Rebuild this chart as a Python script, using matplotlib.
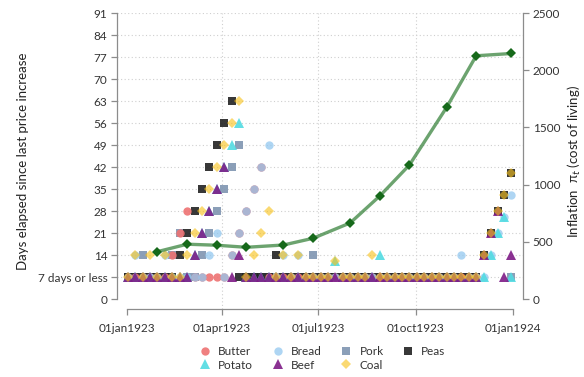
import numpy as np
import pandas as pd
import matplotlib
matplotlib.use("Agg")
import matplotlib.pyplot as plt
import matplotlib.dates as mdates

plt.rcParams["font.family"] = ["Lato", "DejaVu Sans"]

# Weekly observation dates (last two weeks are irregular)
weeks = pd.date_range("1923-01-02", periods=51, freq="7D").append(
    pd.DatetimeIndex(["1923-12-23", "1923-12-30"]))

nan = np.nan
# Days elapsed since last price increase, one value per week
butter = [7, 7, 7, 7, 7, 7, 14, 21, 28, 7, 7, 7, 7, 7, 14, 21, 28, 35, 42] + [7] * 29 + [nan] * 5
bread = ([7, 14, 7, 7, 7, 14, 7, 7, 7, 7, 7, 14, 21, 7, 14, 21, 28, 35, 42, 49, 7, 14, 7, 14]
         + [7] * 21 + [14, 7, 7, 7, 14, 21, 26, 33])
pork = ([7, 7, 14, 7, 7, 7, 14, 21, 7, 7, 14, 21, 28, 35, 42, 49] + [7] * 9 + [14]
        + [7] * 22 + [nan, nan, nan, nan, 7])
peas = [7] * 7 + [14, 21, 28, 35, 42, 49, 56, 63] + [7] * 5 + [14] + [7] * 27 + [14, 21, 28, 33, 40]
potato = ([7] * 9 + [14, 21, 28, 35, 42, 49, 56] + [7] * 12 + [12] + [7] * 5 + [14]
          + [7] * 14 + [14, 21, 26, 7])
beef = [7] * 9 + [14, 21, 28, 35, 42, 7, 14] + [7] * 32 + [14, 21, 28, 7, 14]
coal = ([7, 14, 7, 14, 7, 14, 7, 7, 14, 21, 28, 35, 42, 49, 56, 63, 7, 14, 21, 28,
         7, 14, 7, 14, 7, 7, 7, 7, 12, 7, 7, 7, 7, 14] + [7] * 14 + [14, 21, 28, 33, 40])

# Inflation (cost of living index)
infl_dates = pd.to_datetime(["1923-01-30", "1923-02-27", "1923-03-27", "1923-04-24",
                             "1923-05-29", "1923-06-26", "1923-07-31", "1923-08-28",
                             "1923-09-25", "1923-10-30", "1923-11-27", "1923-12-30"])
inflation = [414, 479, 470, 452, 472, 531, 665, 901, 1172, 1674, 2126, 2146]

tick_dates = pd.to_datetime(["1923-01-01", "1923-04-01", "1923-07-01", "1923-10-01", "1924-01-01"])
tick_labels = ["01jan1923", "01apr1923", "01jul1923", "01oct1923", "01jan1924"]
left_ticks = list(range(0, 92, 7))
left_labels = [str(t) for t in left_ticks]
left_labels[1] = "7 days or less"

fig = plt.figure(figsize=(5.84, 3.77), dpi=100)
ax = fig.add_axes([117 / 584, 68 / 377, 406 / 584, 296 / 377])

# (name, values, marker, size, colour, alpha) in drawing order
series = [
    ("Pork", pork, "s", 5.6, "#7f95b1", 0.9),
    ("Peas", peas, "s", 5.6, "#222222", 0.9),
    ("Butter", butter, "o", 6.0, "#ee7272", 0.9),
    ("Bread", bread, "o", 6.0, "#93c8ef", 0.75),
    ("Potato", potato, "^", 7.2, "#52dbe2", 0.9),
    ("Beef", beef, "^", 7.2, "#7e1c86", 0.9),
    ("Coal", coal, "D", 5.3, "#f8c21c", 0.62),
]
handles = {}
for name, vals, mk, ms, col, a in series:
    h, = ax.plot(weeks, vals, linestyle="none", marker=mk, ms=ms, color=col,
                 alpha=a, mew=0, label=name)
    handles[name] = h

ax.set_xlim(pd.Timestamp("1922-12-22 19:00"), pd.Timestamp("1924-01-10 05:00"))
ax.set_ylim(-3.18, 91.0)
ax.set_xticks(tick_dates)
ax.set_xticklabels(tick_labels)
ax.set_yticks(left_ticks)
ax.set_yticklabels(left_labels)
ax.set_ylabel("Days elapsed since last price increase", fontsize=9.5, color="#222222", labelpad=6)

grid_kw = dict(color="#cfcfcf", linestyle=(0, (1, 2.2)), linewidth=0.8)
ax.grid(True, **grid_kw)
ax.set_axisbelow(True)
ax.get_ygridlines()[0].set_visible(False)
ax.get_xgridlines()[0].set_visible(False)
ax.get_xgridlines()[-1].set_visible(False)

ax2 = ax.twinx()
ax2.plot(infl_dates, inflation, color="#2e7d32", alpha=0.7, lw=2.4, solid_capstyle="round")
ax2.plot(infl_dates, inflation, linestyle="none", marker="D", ms=5.6, color="#16691a", mew=0)
ax2.set_ylim(-3.18 * 2500 / 91, 2500)
ax2.set_yticks(range(0, 2501, 500))
ax2.set_ylabel("Inflation  \u03c0$_t$ (cost of living)", fontsize=9.5, color="#222222", labelpad=4)

spine_col = "#8c8c8c"
for a_ in (ax, ax2):
    for s in a_.spines.values():
        s.set_color(spine_col)
        s.set_linewidth(0.9)
    a_.spines["top"].set_visible(False)
    a_.tick_params(direction="out", length=4, width=0.9, color=spine_col,
                   labelsize=8.5, labelcolor="#333333", pad=3)
ax.spines["right"].set_visible(False)
ax2.spines["left"].set_visible(False)
ax2.spines["bottom"].set_visible(False)
ax.spines["left"].set_bounds(0, 91)
ax2.spines["right"].set_bounds(0, 2500)
ax.spines["bottom"].set_bounds(mdates.date2num(tick_dates[0]), mdates.date2num(tick_dates[-1]))
ax.tick_params(axis="x", pad=6)

order = ["Butter", "Potato", "Bread", "Beef", "Pork", "Coal", "Peas"]
fig.legend([handles[n] for n in order], order, ncol=4, loc="center",
           bbox_to_anchor=(0.552, 0.05), frameon=False, fontsize=8.5,
           handlelength=1.0, handletextpad=0.6, columnspacing=1.6,
           labelspacing=0.25, labelcolor="#333333")

fig.savefig("out.png", dpi=100)
